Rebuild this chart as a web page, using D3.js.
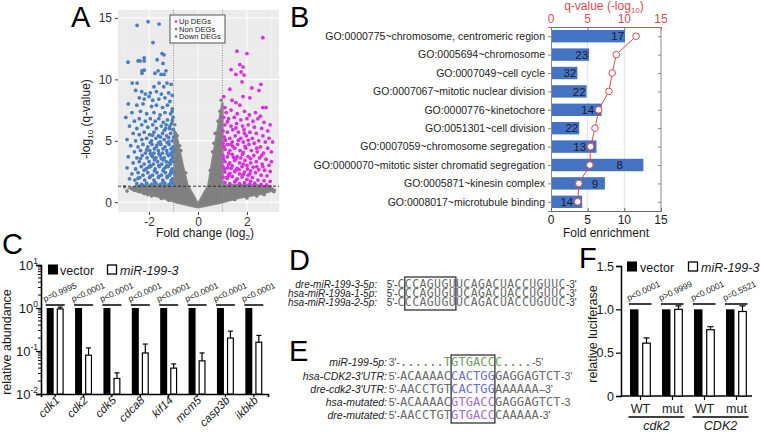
<!DOCTYPE html>
<html><head><meta charset="utf-8">
<script src="https://cdn.jsdelivr.net/npm/d3@7"></script>
<style>
body{margin:0;background:#fff;}
svg{font-family:Arial,"Liberation Sans",sans-serif;}
</style></head><body>
<svg id="c" width="762" height="433"></svg>
<script>
// ---------------- DATA ----------------
// Panel A: volcano (fold change log2, -log10 q)
const volcXTicks = [-2, 0, 2];
const volcYTicks = [0, 5, 10, 15];
const fcThresholds = [-1, 1];
const qThreshold = 1.3;
const grayOutline = [[-0.98,6.03],[-0.82,5.05],[-0.61,3.02],[-0.41,1.39],[0,-0.08],[0.41,1.39],[0.57,3.42],[0.78,5.87],[0.98,8.07],[1.02,8.07],[1.02,1.39],[2.12,1.47],[2.86,1.3],[3.18,0.98],[2.61,0.65],[1.71,0.33],[0.9,-0.08],[0,-0.45],[-0.82,-0.08],[-1.63,0.41],[-2.45,0.81],[-2.86,1.14],[-2.37,1.39],[-0.98,1.39]];
const grayPoints = [[-2.4,0.9],[-2.7,1.1],[-3.0,1.25],[-2.2,0.7],[-1.9,0.5],[-1.5,0.3],[-2.6,0.95],[-2.05,0.6],[-1.2,0.15],[2.9,1.15],[3.1,0.85],[2.7,0.6],[2.4,0.5],[2.0,0.35],[1.5,0.2],[2.95,1.3],[-0.95,6.3],[-0.92,5.6],[-0.85,5.4],[0.95,8.3],[0.9,7.4],[0.7,5.6],[0.65,4.8],[-0.7,4.2],[-0.5,2.4],[0.5,2.6],[-2.9,0.9],[3.05,1.05],[-0.3,0.6],[0.3,0.7],[-0.75,4.6],[0.82,6.6],[0.6,4.1],[-0.55,2.0]];
const bluePoints = [[-2.49,14.4],[-2.04,14.7],[-1.59,14.5],[-1.84,13.0],[-1.47,12.1],[-1.39,12.0],[-2.86,11.4],[-2.45,11.5],[-2.37,11.5],[-2.2,11.5],[-2.2,11.75],[-1.67,11.6],[-1.43,11.3],[-2.29,10.7],[-2.2,10.75],[-2.29,10.5],[-1.76,10.5],[-1.63,10.7],[-1.51,10.4],[-1.31,10.7],[-1.39,10.4],[-2.69,9.7],[-2.49,9.7],[-1.59,9.7],[-1.27,9.7],[-1.1,9.6],[-1.8,9.4],[-1.4,9.4],
[-2.55,9.1],[-2.3,9.0],[-2.15,8.8],[-1.95,8.9],[-1.7,9.0],[-1.5,8.8],[-1.2,8.9],[-1.05,8.7],[-2.4,8.5],[-2.2,8.4],[-2.0,8.6],[-1.85,8.3],[-1.6,8.4],[-1.35,8.5],[-1.15,8.2],[-2.85,8.0],[-2.5,7.9],[-2.25,8.0],[-1.9,7.8],[-1.7,7.9],[-1.45,7.7],[-1.25,7.9],[-1.05,7.6],[-2.7,7.3],[-2.35,7.4],[-2.1,7.2],[-1.8,7.3],[-1.55,7.1],[-1.35,7.3],[-1.12,7.2],[-1.02,6.9],
[-2.95,6.9],[-2.6,6.6],[-2.4,6.8],[-2.15,6.6],[-1.95,6.8],[-1.75,6.6],[-1.6,6.8],[-1.42,6.5],[-1.25,6.7],[-1.08,6.4],[-2.8,6.2],[-2.5,6.0],[-2.3,6.3],[-2.05,6.1],[-1.85,6.3],[-1.7,6.0],[-1.5,6.2],[-1.32,6.0],[-1.15,6.2],[-1.02,5.9],[-2.65,5.6],[-2.4,5.5],[-2.2,5.7],[-1.98,5.5],[-1.8,5.7],[-1.62,5.4],[-1.45,5.6],[-1.28,5.4],[-1.12,5.6],[-1.0,5.3],[-2.9,5.1],[-2.55,5.0],[-2.3,5.1],[-2.1,5.2],[-1.9,5.0],[-1.72,5.2],[-1.55,4.9],[-1.38,5.1],[-1.2,4.9],[-1.05,5.0],
[-2.75,4.6],[-2.45,4.5],[-2.25,4.7],[-2.05,4.5],[-1.88,4.7],[-1.7,4.5],[-1.52,4.7],[-1.35,4.5],[-1.18,4.7],[-1.02,4.5],[-2.6,4.1],[-2.35,4.2],[-2.15,4.0],[-1.97,4.2],[-1.8,4.0],[-1.62,4.2],[-1.45,4.0],[-1.28,4.2],[-1.1,4.0],[-1.0,4.2],[-2.85,3.7],[-2.5,3.6],[-2.28,3.8],[-2.08,3.6],[-1.9,3.8],[-1.72,3.6],[-1.55,3.8],[-1.38,3.6],[-1.2,3.8],[-1.04,3.6],[-2.65,3.2],[-2.4,3.3],[-2.2,3.1],[-2.0,3.3],[-1.82,3.1],[-1.65,3.3],[-1.48,3.1],[-1.3,3.3],[-1.13,3.1],[-1.0,3.3],[-2.9,2.8],[-2.55,2.7],[-2.32,2.9],[-2.12,2.7],[-1.93,2.9],[-1.75,2.7],[-1.58,2.9],[-1.4,2.7],[-1.22,2.9],[-1.06,2.7],[-2.7,2.3],[-2.45,2.4],[-2.25,2.2],[-2.05,2.4],[-1.86,2.2],[-1.68,2.4],[-1.5,2.2],[-1.33,2.4],[-1.16,2.2],[-1.0,2.4],[-2.8,1.9],[-2.58,1.8],[-2.38,2.0],[-2.18,1.8],[-1.98,2.0],[-1.8,1.8],[-1.62,2.0],[-1.44,1.8],[-1.26,2.0],[-1.09,1.8],[-2.5,1.5],[-2.3,1.45],[-2.1,1.55],[-1.9,1.45],[-1.72,1.55],[-1.54,1.45],[-1.36,1.55],[-1.18,1.45],[-1.02,1.55],
[-1.95,4.85],[-1.78,4.35],[-1.6,4.85],[-1.43,4.35],[-1.26,4.85],[-1.1,4.35],[-1.95,3.95],[-1.78,3.45],[-1.6,3.95],[-1.43,3.45],[-1.26,3.95],[-1.1,3.45],[-1.95,3.0],[-1.78,2.55],[-1.6,3.0],[-1.43,2.55],[-1.26,3.0],[-1.1,2.55],[-1.95,2.1],[-1.78,1.65],[-1.6,2.1],[-1.43,1.65],[-1.26,2.1],[-1.1,1.65],[-2.2,2.6],[-2.35,3.55],[-2.1,4.25],[-2.45,1.95],[-1.05,6.65],[-1.2,5.25],[-1.38,5.85],
[-1.03,4.05],[-1.07,3.85],[-1.15,3.25],[-1.32,2.85],[-1.5,3.55],[-1.68,4.65],[-1.85,3.7],[-2.02,2.85],[-1.12,2.35],[-1.04,1.9],[-1.53,5.3],[-1.86,5.45],[-1.16,6.0],[-1.3,6.3],[-1.06,7.4]];
const magentaPoints = [[2.65,13.4],[1.59,12.3],[2.0,12.1],[1.35,10.8],[1.71,11.2],[1.84,11.0],[1.76,10.6],[1.55,10.4],[1.88,10.35],[1.8,9.8],[2.57,9.6],[2.49,9.1],[2.65,7.7],[2.78,7.7],[1.1,7.7],[1.39,8.3],[1.55,8.1],[1.84,8.6],[1.71,7.9],[2.12,8.5],[1.3,9.2],[2.2,9.3],[1.05,8.6],
[1.15,7.3],[1.35,7.5],[1.6,7.2],[1.9,7.4],[2.1,7.1],[2.35,7.3],[2.55,7.0],[1.05,6.9],[1.25,6.8],[1.48,6.9],[1.75,6.7],[2.0,6.8],[2.25,6.6],[2.45,6.8],[2.7,6.5],[2.95,6.3],[1.1,6.3],[1.35,6.2],[1.58,6.4],[1.82,6.2],[2.05,6.3],[2.3,6.1],[2.6,6.0],[2.85,5.8],
[1.02,5.8],[1.2,5.7],[1.42,5.9],[1.65,5.7],[1.88,5.9],[2.12,5.7],[2.38,5.6],[2.65,5.4],[2.9,5.2],[3.05,4.9],[1.08,5.3],[1.3,5.2],[1.52,5.4],[1.75,5.2],[1.98,5.4],[2.22,5.2],[2.48,5.0],[2.75,4.9],[1.02,4.8],[1.2,4.7],[1.4,4.9],[1.62,4.7],[1.85,4.9],[2.08,4.7],[2.3,4.8],[2.55,4.5],[2.85,4.4],[3.0,4.1],[1.1,4.3],[1.3,4.2],[1.5,4.4],[1.72,4.2],[1.95,4.4],[2.18,4.2],[2.42,4.1],[2.68,4.0],[1.02,3.8],[1.2,3.7],[1.4,3.9],[1.6,3.7],[1.82,3.9],[2.05,3.7],[2.28,3.8],[2.52,3.6],[2.78,3.5],[3.0,3.3],[1.1,3.3],[1.3,3.2],[1.5,3.4],[1.7,3.2],[1.92,3.4],[2.15,3.2],[2.38,3.3],[2.62,3.1],[2.9,3.0],[1.02,2.9],[1.2,2.8],[1.4,2.95],[1.6,2.75],[1.8,2.9],[2.02,2.7],[2.25,2.85],[2.48,2.65],[2.72,2.6],[2.95,2.5],[1.1,2.45],[1.3,2.35],[1.5,2.5],[1.7,2.3],[1.9,2.45],[2.12,2.3],[2.35,2.4],[2.58,2.2],[2.82,2.15],[1.02,2.05],[1.2,1.95],[1.4,2.1],[1.6,1.9],[1.8,2.05],[2.0,1.85],[2.22,2.0],[2.45,1.8],[2.7,1.75],[2.95,1.7],[1.1,1.6],[1.3,1.5],[1.5,1.65],[1.7,1.5],[1.9,1.6],[2.1,1.45],[2.32,1.55],[2.58,1.45],[2.8,1.4],
[1.12,5.05],[1.42,4.55],[1.65,5.05],[1.92,4.55],[1.25,4.0],[1.55,3.55],[1.85,4.05],[2.15,3.55],[1.25,3.05],[1.55,2.6],[1.85,3.1],[2.15,2.55],[1.25,2.2],[1.55,1.75],[1.85,2.25],[2.15,1.7],[2.4,2.9],[2.4,4.4],[2.6,3.8],[2.65,2.9],
[1.06,4.55],[1.04,3.55],[1.08,2.7],[1.16,2.0],[1.35,2.75],[1.45,3.65],[1.68,2.65],[1.75,3.6],[2.0,3.0],[2.05,2.2],[1.34,4.7],[1.55,6.05],[1.9,5.6],[2.05,5.05],[1.2,6.55]];
const legendA = ["Up DEGs","Non DEGs","Down DEGs"];

// Panel B: GO enrichment
const goTerms = ["GO:0000775~chromosome, centromeric region","GO:0005694~chromosome","GO:0007049~cell cycle","GO:0007067~mitotic nuclear division","GO:0000776~kinetochore","GO:0051301~cell division","GO:0007059~chromosome segregation","GO:0000070~mitotic sister chromatid segregation","GO:0005871~kinesin complex","GO:0008017~microtubule binding"];
const goFold = [10.1,5.2,3.6,4.85,6.9,3.85,6.2,12.6,7.35,4.25];
const goCount = [17,23,32,22,14,22,13,8,9,14];
const goQ = [11.6,8.9,8.35,7.9,6.5,6.0,5.4,5.3,3.8,3.65];
const goTicks = [0,5,10,15];

// Panel C: qPCR
const genes = ["cdk1","cdk2","cdk5","cdca8","kif14","mcm5","casp3b","ikbkb"];
const vectorVals = [1,1,1,1,1,1,1,1];
const mirVals = [0.95,0.08,0.023,0.09,0.04,0.059,0.2,0.16];
const mirErrTop = [1.05,0.118,0.031,0.145,0.05,0.09,0.29,0.23];
const cPvals = ["p=0.9995","p<0.0001","p<0.0001","p<0.0001","p<0.0001","p<0.0001","p<0.0001","p<0.0001"];
const cDecades = [0.01,0.1,1,10];
const cDecadeExp = ["-2","-1","0","1"];

// Panel D
const dLabels = ["dre-miR-199-3-5p:","hsa-miR-199a-1-5p:","hsa-miR-199a-2-5p:"];
const dSeqs = ["CCCAGUGUUCAGACUACCUGUUC","CCCAGUGUUCAGACUACCUGUUC","CCCAGUGUUCAGACUACCUGUUC"];

// Panel E
const eLabels = ["miR-199-5p:","hsa-CDK2-3'UTR:","dre-cdk2-3'UTR:","hsa-mutated:","dre-mutated:"];
const ePrefix = ["3'-","5'-","5'-","5'-","5'-"];
const eSuffix = ["-5'","-3'","\u20133'","-3","-3'"];
const eSegments = [
  [["......","n"],["TGTGACCC","g"],["....","n"]],
  [["ACAAAAC","n"],["CACTGG","b"],["GAGGAGTCT","n"]],
  [["AACCTGT","n"],["CACTGG","b"],["AAAAAA","n"]],
  [["ACAAAAC","n"],["GTGACC","p"],["GAGGAGTCT","n"]],
  [["AACCTGT","n"],["GTGACC","p"],["CAAAAA","n"]]
];

// Panel F: luciferase
const fGroups = ["WT|cdk2","mut|cdk2","WT|CDK2","mut|CDK2"];
const fTickLabels = ["WT","mut","WT","mut"];
const fGenes = ["cdk2","CDK2"];
const fVector = [1,1,1,1];
const fMir = [0.61,1.0,0.765,0.975];
const fMirErrTop = [0.67,1.04,0.80,1.04];
const fPvals = ["p<0.0001","p>0.9999","p<0.0001","p=0.5521"];
const fYTicks = [0,0.5,1.0,1.5];

// ---------------- DRAW ----------------
const svg = d3.select("#c");
const ink = "#1a1a1a";

function panelLetter(t,x,y){svg.append("text").attr("x",x).attr("y",y).attr("font-size",29).attr("fill","#000").text(t);}
panelLetter("A",71,27);panelLetter("B",290,27);panelLetter("C",2,254);panelLetter("D",289,270);panelLetter("E",289,361);panelLetter("F",579,268);

// ===== Panel A =====
(function(){
const g = svg.append("g");
const x = d3.scaleLinear().domain([-3.27,3.31]).range([118,279]);
const y = d3.scaleLinear().domain([-0.8,15.65]).range([212,10]);
g.append("rect").attr("x",118).attr("y",10).attr("width",161).attr("height",202).attr("fill","#ebebeb");
g.append("clipPath").attr("id","clipA").append("rect").attr("x",118).attr("y",10).attr("width",161).attr("height",202);
const grid = g.append("g");
[-3,-1,1,3].forEach(v=>grid.append("line").attr("x1",x(v)).attr("x2",x(v)).attr("y1",10).attr("y2",212).attr("stroke","#f5f5f5").attr("stroke-width",0.5));
[2.5,7.5,12.5].forEach(v=>grid.append("line").attr("y1",y(v)).attr("y2",y(v)).attr("x1",118).attr("x2",279).attr("stroke","#f5f5f5").attr("stroke-width",0.5));
volcXTicks.forEach(v=>grid.append("line").attr("x1",x(v)).attr("x2",x(v)).attr("y1",10).attr("y2",212).attr("stroke","#fff").attr("stroke-width",1));
volcYTicks.forEach(v=>grid.append("line").attr("y1",y(v)).attr("y2",y(v)).attr("x1",118).attr("x2",279).attr("stroke","#fff").attr("stroke-width",1));
const pts = g.append("g").attr("clip-path","url(#clipA)");
pts.append("path").datum(grayOutline).attr("d",d3.line().x(d=>x(d[0])).y(d=>y(d[1])).curve(d3.curveLinearClosed)).attr("fill","#808080").attr("stroke","#8a8a8a").attr("stroke-width",1.5).attr("stroke-linejoin","round");
pts.selectAll(".gp").data(grayPoints).join("circle").attr("cx",d=>x(d[0])).attr("cy",d=>y(d[1])).attr("r",1.8).attr("fill","#808080");
pts.selectAll(".bp").data(bluePoints).join("circle").attr("cx",d=>x(d[0])).attr("cy",d=>y(d[1])).attr("r",1.9).attr("fill","#4a7dc0");
pts.selectAll(".mp").data(magentaPoints).join("circle").attr("cx",d=>x(d[0])).attr("cy",d=>y(d[1])).attr("r",1.9).attr("fill","#dd2ee3");
fcThresholds.forEach(v=>g.append("line").attr("x1",x(v)).attr("x2",x(v)).attr("y1",10).attr("y2",212).attr("stroke","#8a8a8a").attr("stroke-width",1).attr("stroke-dasharray","1,1.5"));
g.append("line").attr("x1",118).attr("x2",279).attr("y1",y(qThreshold)).attr("y2",y(qThreshold)).attr("stroke","#222").attr("stroke-width",0.9).attr("stroke-dasharray","3,2");
const ya = g.append("g").attr("transform","translate(118,0)").call(d3.axisLeft(y).tickValues(volcYTicks).tickSize(3).tickPadding(3));
ya.select(".domain").remove();
ya.selectAll("text").attr("font-size",12).attr("fill","#333").attr("font-family","Arial,'Liberation Sans',sans-serif");
ya.selectAll("line").attr("stroke","#444");
const xa = g.append("g").attr("transform","translate(0,212)").call(d3.axisBottom(x).tickValues(volcXTicks).tickSize(3).tickPadding(2).tickFormat(d=>d<0?"-"+Math.abs(d):d));
xa.select(".domain").remove();
xa.selectAll("text").attr("font-size",12).attr("fill","#333").attr("font-family","Arial,'Liberation Sans',sans-serif");
xa.selectAll("line").attr("stroke","#444");
const xt = g.append("text").attr("x",205).attr("y",237).attr("text-anchor","middle").attr("font-size",12).attr("fill",ink);
xt.append("tspan").text("Fold change (log");xt.append("tspan").attr("font-size",8).attr("dy",3).text("2");xt.append("tspan").attr("dy",-3).text(")");
const yt = g.append("text").attr("transform","translate(90,119) rotate(-90)").attr("text-anchor","middle").attr("font-size",12).attr("fill",ink);
yt.append("tspan").text("-log");yt.append("tspan").attr("font-size",8).attr("dy",3).text("10");yt.append("tspan").attr("dy",-3).text(" (q-value)");
const lg = g.append("g");
lg.append("rect").attr("x",170).attr("y",15).attr("width",55).attr("height",28).attr("fill","#fafafa").attr("stroke","#555").attr("stroke-width",1);
const lcol = ["#dd2ee3","#808080","#4a7dc0"];
legendA.forEach((t,i)=>{
  lg.append("circle").attr("cx",176).attr("cy",21.5+i*7.5).attr("r",1.3).attr("fill",lcol[i]);
  lg.append("text").attr("x",179).attr("y",24.3+i*7.5).attr("font-size",7.6).attr("fill","#222").text(t);
});
})();

// ===== Panel B =====
(function(){
const g = svg.append("g");
const red = "#d64b50";
const x = d3.scaleLinear().domain([0,15]).range([551,661]);
const y = d3.scalePoint().domain(goTerms).range([27,211]).padding(0.5);
goTicks.slice(1,3).forEach(v=>g.append("line").attr("x1",x(v)).attr("x2",x(v)).attr("y1",27).attr("y2",211).attr("stroke","#e3e3e3").attr("stroke-width",1));
g.selectAll(".bar").data(goTerms).join("rect").attr("x",x(0)).attr("y",d=>y(d)-6.2).attr("height",12.4)
  .attr("width",(d,i)=>x(goFold[i])-x(0)).attr("fill","#4573c4");
g.append("line").attr("x1",661).attr("x2",661).attr("y1",27).attr("y2",211).attr("stroke","#888");
const left = g.append("g").attr("transform","translate(551,0)").call(d3.axisLeft(y).tickSize(3).tickPadding(3));
left.select(".domain").attr("stroke","#888");left.selectAll("line").attr("stroke","#888");
left.selectAll("text").attr("font-size",10.5).attr("fill","#222").attr("font-family","Arial,'Liberation Sans',sans-serif");
const right = g.append("g").attr("transform","translate(661,0)").call(d3.axisLeft(y).tickSize(3).tickFormat(""));
right.select(".domain").remove();right.selectAll("line").attr("stroke","#888");
const bot = g.append("g").attr("transform","translate(0,211)").call(d3.axisTop(x).tickValues(goTicks).tickSize(3).tickFormat(""));
bot.select(".domain").attr("stroke","#666");bot.selectAll("line").attr("stroke","#666");
goTicks.forEach(v=>g.append("text").attr("x",x(v)).attr("y",224).attr("text-anchor","middle").attr("font-size",12).attr("fill",ink).text(v));
g.append("text").attr("x",606).attr("y",237).attr("text-anchor","middle").attr("font-size",12).attr("fill",ink).text("Fold enrichment");
const top = g.append("g").attr("transform","translate(0,27)").call(d3.axisBottom(x).tickValues(goTicks).tickSize(3).tickFormat(""));
top.select(".domain").attr("stroke",red);top.selectAll("line").attr("stroke",red);
goTicks.forEach(v=>g.append("text").attr("x",x(v)).attr("y",23).attr("text-anchor","middle").attr("font-size",12).attr("fill",red).text(v));
const qt = g.append("text").attr("x",604).attr("y",10).attr("text-anchor","middle").attr("font-size",12).attr("fill",red);
qt.append("tspan").text("q-value (-log");qt.append("tspan").attr("font-size",8).attr("dy",3).text("10");qt.append("tspan").attr("dy",-3).text(")");
goTerms.forEach((t,i)=>{
  const be = x(goFold[i]), cq = x(goQ[i]);
  let px, anchor;
  if (cq > be) { px = be-1; anchor="end"; }
  else if (be - cq > 22) { px = (be+cq)/2+3; anchor="middle"; }
  else { px = cq-4.5; anchor="end"; }
  g.append("text").attr("x",px).attr("y",y(t)+4.2).attr("text-anchor",anchor).attr("font-size",11.5).attr("fill","#1b1b2a").text(goCount[i]);
});
const qd = goTerms.map((t,i)=>[x(goQ[i]),y(t)]);
g.append("path").datum(qd).attr("d",d3.line()).attr("fill","none").attr("stroke",red).attr("stroke-width",1);
g.selectAll(".qc").data(qd).join("circle").attr("cx",d=>d[0]).attr("cy",d=>d[1]).attr("r",3.3).attr("fill","#fff").attr("stroke",red).attr("stroke-width",1);
})();

// ===== Panel C =====
(function(){
const g = svg.append("g");
const x = d3.scaleBand().domain(genes).range([41,268]);
const y = d3.scaleLog().domain([0.01,10]).range([394,265]);
const bw = 7;
const minor=[];[0.01,0.1,1].forEach(d=>{for(let k=2;k<10;k++)minor.push(k*d);});
minor.forEach(v=>g.append("line").attr("x1",38).attr("x2",41).attr("y1",y(v)).attr("y2",y(v)).attr("stroke","#000").attr("stroke-width",1));
const ya = g.append("g").attr("transform","translate(41,0)").call(d3.axisLeft(y).tickValues(cDecades).tickSize(5).tickFormat(""));
ya.select(".domain").attr("stroke","#000").attr("stroke-width",1.6);ya.selectAll("line").attr("stroke","#000").attr("stroke-width",1.3);
cDecades.forEach((v,i)=>{
  const t = g.append("text").attr("x",38).attr("y",y(v)+5).attr("text-anchor","end").attr("font-size",13).attr("fill",ink);
  t.append("tspan").text("10");t.append("tspan").attr("dy",-6).attr("font-size",8.5).text(cDecadeExp[i]);
});
const xa = g.append("g").attr("transform","translate(0,394)").call(d3.axisBottom(x).tickSize(3).tickFormat(""));
xa.select(".domain").attr("stroke","#000").attr("stroke-width",1.6);xa.selectAll("line").attr("stroke","#000").attr("stroke-width",1.2);
genes.forEach((gn,i)=>{
  const c = x(gn)+x.bandwidth()/2;
  g.append("rect").attr("x",c-8.5).attr("width",bw).attr("y",y(vectorVals[i])).attr("height",394-y(vectorVals[i])).attr("fill","#000");
  g.append("line").attr("x1",c+5).attr("x2",c+5).attr("y1",y(mirVals[i])).attr("y2",y(mirErrTop[i])).attr("stroke","#000").attr("stroke-width",1.2);
  g.append("line").attr("x1",c+2.5).attr("x2",c+7.5).attr("y1",y(mirErrTop[i])).attr("y2",y(mirErrTop[i])).attr("stroke","#000").attr("stroke-width",1.2);
  g.append("rect").attr("x",c+1.5+0.6).attr("width",bw-1.2).attr("y",y(mirVals[i])).attr("height",394-y(mirVals[i])).attr("fill","#fff").attr("stroke","#000").attr("stroke-width",1.2);
  g.append("line").attr("x1",c-9.5).attr("x2",c+9.5).attr("y1",305).attr("y2",305).attr("stroke","#000").attr("stroke-width",1.5);
  g.append("text").attr("transform",`translate(${c-10.5},302) rotate(-24)`).attr("font-size",8.5).attr("fill","#222").text(cPvals[i]);
  g.append("text").attr("transform",`translate(${c+5},401) rotate(-45)`).attr("text-anchor","end").attr("font-size",11.5).attr("font-style","italic").attr("fill",ink).text(gn);
});
g.append("text").attr("transform","translate(11,342) rotate(-90)").attr("text-anchor","middle").attr("font-size",12.5).attr("fill",ink).text("relative abundance");
g.append("rect").attr("x",48).attr("y",264.5).attr("width",10).attr("height",10).attr("fill","#000");
g.append("text").attr("x",60).attr("y",275).attr("font-size",12.5).attr("fill",ink).text("vector");
g.append("rect").attr("x",107.5).attr("y",265).attr("width",9).attr("height",9).attr("fill","#fff").attr("stroke","#000").attr("stroke-width",1.3);
g.append("text").attr("x",120).attr("y",275).attr("font-size",12.5).attr("font-style","italic").attr("fill",ink).text("miR-199-3");
})();

// ===== Panel D =====
const MONO = "'DejaVu Sans Mono','Liberation Mono',monospace";
const cw = 7.3;
(function(){
const g = svg.append("g");
const seqX = 397.5, rows=[288,297,306];
dLabels.forEach((l,i)=>{
  g.append("text").attr("x",377).attr("y",rows[i]).attr("text-anchor","end").attr("font-size",10).attr("font-style","italic").attr("fill","#222").text(l);
  g.append("text").attr("x",seqX).attr("y",rows[i]).attr("text-anchor","end").attr("font-size",10).attr("fill","#333").text("5'-");
  g.append("text").attr("x",seqX).attr("y",rows[i]).attr("font-family",MONO).attr("font-size",11.5).attr("textLength",dSeqs[i].length*cw).attr("fill","#6a6a6a").text(dSeqs[i]);
  g.append("text").attr("x",seqX+dSeqs[i].length*cw+0.5).attr("y",rows[i]).attr("font-size",10).attr("fill","#333").text("-3'");
});
g.append("rect").attr("x",seqX+cw).attr("y",rows[0]-11).attr("width",7*cw).attr("height",rows[2]-rows[0]+15).attr("fill","none").attr("stroke","#333").attr("stroke-width",1.3);
})();

// ===== Panel E =====
(function(){
const g = svg.append("g");
const seqX = 400, rows=[366,380,393,406,419];
const col = {n:"#6a6a6a", g:"#6f9f62", b:"#6b6bd8", p:"#a46ad8"};
eLabels.forEach((l,i)=>{
  g.append("text").attr("x",387).attr("y",rows[i]).attr("text-anchor","end").attr("font-size",10.5).attr("font-style","italic").attr("fill","#222").text(l);
  g.append("text").attr("x",seqX).attr("y",rows[i]).attr("text-anchor","end").attr("font-size",10.5).attr("fill","#555").text(ePrefix[i]);
  let k=0;
  eSegments[i].forEach(s=>{
    g.append("text").attr("x",seqX+k*cw).attr("y",rows[i]).attr("font-family",MONO).attr("font-size",12).attr("textLength",s[0].length*cw).attr("fill",col[s[1]]).text(s[0]);
    k+=s[0].length;
  });
  g.append("text").attr("x",seqX+k*cw+0.5).attr("y",rows[i]).attr("font-size",10.5).attr("fill","#555").text(eSuffix[i]);
});
g.append("rect").attr("x",seqX+7*cw).attr("y",rows[0]-11).attr("width",6*cw).attr("height",rows[4]-rows[0]+15).attr("fill","none").attr("stroke","#333").attr("stroke-width",1.3);
})();

// ===== Panel F =====
(function(){
const g = svg.append("g");
const x = d3.scaleBand().domain(fGroups).range([624.5,752.5]);
const y = d3.scaleLinear().domain([0,1.5]).range([396,266]);
const ya = g.append("g").attr("transform","translate(621,0)").call(d3.axisLeft(y).tickValues(fYTicks).tickSize(5).tickPadding(2).tickFormat(d=>d===0?"0":d3.format(".1f")(d)));
ya.select(".domain").attr("stroke","#000").attr("stroke-width",1.5);ya.selectAll("line").attr("stroke","#000").attr("stroke-width",1.2);
ya.selectAll("text").attr("font-size",12.5).attr("fill",ink).attr("font-family","Arial,'Liberation Sans',sans-serif");
const xa = g.append("g").attr("transform","translate(0,396)").call(d3.axisBottom(x).tickSize(4).tickFormat(""));
xa.select(".domain").attr("stroke","#000").attr("stroke-width",1.5).attr("d","M621,0H752");xa.selectAll("line").attr("stroke","#000").attr("stroke-width",1.2);
fGroups.forEach((gr,i)=>{
  const c = x(gr)+x.bandwidth()/2;
  g.append("rect").attr("x",c-10.5).attr("width",8.5).attr("y",y(fVector[i])).attr("height",396-y(fVector[i])).attr("fill","#000");
  g.append("line").attr("x1",c+6).attr("x2",c+6).attr("y1",y(fMir[i])).attr("y2",y(fMirErrTop[i])).attr("stroke","#000").attr("stroke-width",1.2);
  g.append("line").attr("x1",c+3).attr("x2",c+9).attr("y1",y(fMirErrTop[i])).attr("y2",y(fMirErrTop[i])).attr("stroke","#000").attr("stroke-width",1.2);
  g.append("rect").attr("x",c+2.2).attr("width",7.6).attr("y",y(fMir[i])).attr("height",396-y(fMir[i])).attr("fill","#fff").attr("stroke","#000").attr("stroke-width",1.2);
  g.append("line").attr("x1",c-11.5).attr("x2",c+11).attr("y1",304).attr("y2",304).attr("stroke","#000").attr("stroke-width",1.5);
  g.append("text").attr("transform",`translate(${c-12},301) rotate(-25)`).attr("font-size",8.5).attr("fill","#222").text(fPvals[i]);
  g.append("text").attr("x",c).attr("y",413).attr("text-anchor","middle").attr("font-size",12.5).attr("fill",ink).text(fTickLabels[i]);
});
fGenes.forEach((gn,j)=>{
  const a = x(fGroups[2*j])+x.bandwidth()/2-12, b = x(fGroups[2*j+1])+x.bandwidth()/2+12;
  g.append("line").attr("x1",a).attr("x2",b).attr("y1",417).attr("y2",417).attr("stroke","#000").attr("stroke-width",1.3);
  g.append("text").attr("x",(a+b)/2).attr("y",430).attr("text-anchor","middle").attr("font-size",12.5).attr("font-style","italic").attr("fill",ink).text(gn);
});
g.append("text").attr("transform","translate(597,334) rotate(-90)").attr("text-anchor","middle").attr("font-size",12.5).attr("fill",ink).text("relative luciferase");
g.append("rect").attr("x",627).attr("y",261.5).attr("width",10).attr("height",10).attr("fill","#000");
g.append("text").attr("x",640).attr("y",271.5).attr("font-size",12.5).attr("fill",ink).text("vector");
g.append("rect").attr("x",688.5).attr("y",262).attr("width",9).attr("height",9).attr("fill","#fff").attr("stroke","#000").attr("stroke-width",1.3);
g.append("text").attr("x",701).attr("y",271.5).attr("font-size",12.5).attr("font-style","italic").attr("fill",ink).text("miR-199-3");
})();
</script>
</body></html>
